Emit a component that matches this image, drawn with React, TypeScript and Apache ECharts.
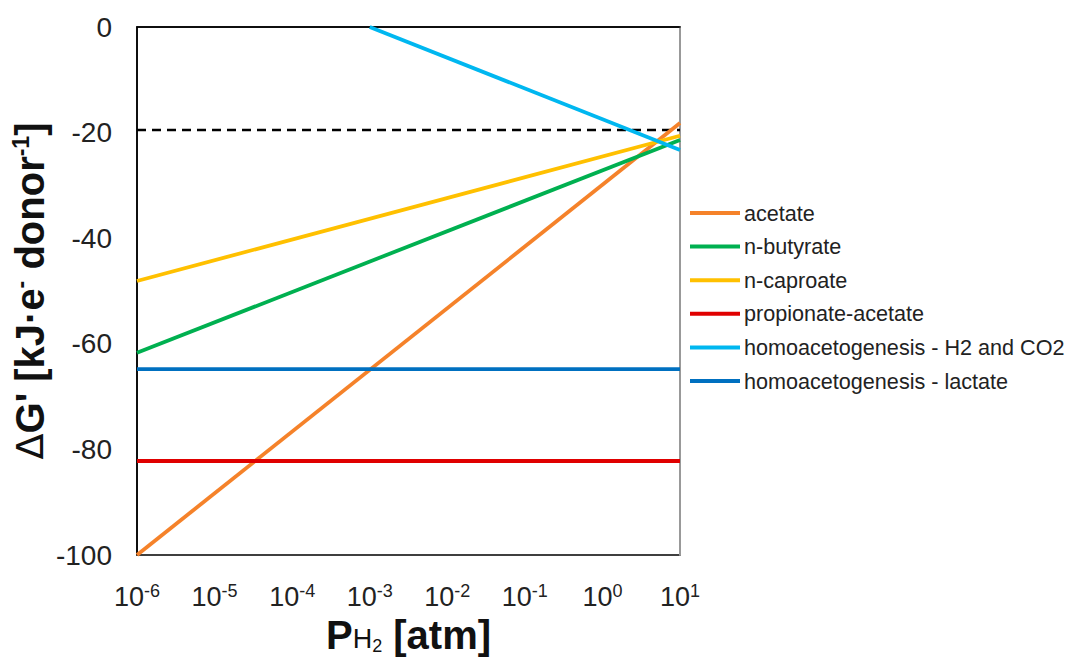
import React, { useEffect, useRef } from "react";
import * as echarts from "echarts";

const seriesNames = [
  "acetate",
  "n-butyrate",
  "n-caproate",
  "propionate-acetate",
  "homoacetogenesis - H2 and CO2",
  "homoacetogenesis - lactate",
];
const seriesColors = ["#F5822A", "#00B050", "#FFC000", "#E00000", "#00B7F0", "#0070C0"];

const acetate = [[1e-6, -100], [10, -18.2]];
const nButyrate = [[1e-6, -61.7], [10, -21.4]];
const nCaproate = [[1e-6, -48.1], [10, -20.6]];
const propionateAcetate = [[1e-6, -82.2], [10, -82.2]];
const homoH2CO2 = [[1e-3, 0], [10, -23.3]];
const homoLactate = [[1e-6, -64.8], [10, -64.8]];
const threshold = [[1e-6, -19.5], [10, -19.5]];

const seriesData = [acetate, nButyrate, nCaproate, propionateAcetate, homoH2CO2, homoLactate];

const FONT = "Liberation Sans, Arial, sans-serif";

export default function App() {
  const ref = useRef<HTMLDivElement>(null);
  useEffect(() => {
    if (!ref.current) return;
    const chart = echarts.init(ref.current, undefined, { renderer: "svg" });
    const series: any[] = seriesNames.map((name, i) => ({
      name,
      type: "line",
      data: seriesData[i],
      showSymbol: false,
      symbol: "none",
      lineStyle: { color: seriesColors[i], width: 3.8 },
      itemStyle: { color: seriesColors[i] },
      z: 3,
    }));
    series.push({
      name: "threshold",
      type: "line",
      data: threshold,
      showSymbol: false,
      symbol: "none",
      lineStyle: { color: "#000", width: 2.5, type: [9, 6] },
      itemStyle: { color: "#000" },
      z: 2,
    });
    chart.setOption({
      animation: false,
      backgroundColor: "#fff",
      grid: {
        left: 137,
        right: 390,
        top: 27,
        bottom: 104,
        outerBoundsMode: "none",
        containLabel: false,
        show: true,
        borderColor: "#000",
        borderWidth: 1.5,
      },
      legend: {
        data: seriesNames,
        orient: "vertical",
        left: 685,
        top: 196,
        icon: "rect",
        itemWidth: 50,
        itemHeight: 4,
        itemGap: 9.6,
        itemStyle: { borderWidth: 0 },
        textStyle: { fontFamily: FONT, fontSize: 21.6, color: "#222", lineHeight: 24, padding: [0, 0, 0, -1] },
      },
      xAxis: {
        type: "log",
        logBase: 10,
        min: 1e-6,
        max: 10,
        splitLine: { show: false },
        axisTick: { show: false },
        minorTick: { show: false },
        axisLine: { show: true, lineStyle: { color: "#000", width: 1.5 } },
        axisLabel: {
          margin: 27,
          formatter: (v: number) => {
            const e = Math.round(Math.log10(v));
            return "{a|10}{b|" + e + "}";
          },
          rich: {
            a: { fontFamily: FONT, fontSize: 27, color: "#222" },
            b: { fontFamily: FONT, fontSize: 18, color: "#222", verticalAlign: "top", padding: [0, 0, 12, 0] },
          },
        },
        name: "{p|P}{h|H}{s|2}{p| [atm]}",
        nameLocation: "middle",
        nameGap: 60,
        nameMoveOverlap: false,
        nameTextStyle: {
          rich: {
            p: { fontFamily: FONT, fontSize: 40, fontWeight: "bold", color: "#111" },
            h: { fontFamily: FONT, fontSize: 27, color: "#111", padding: [8, 0, 0, 0] },
            s: { fontFamily: FONT, fontSize: 18, color: "#111", padding: [22, 0, 0, 0] },
          },
        },
      },
      yAxis: [
        {
          type: "value",
          min: -100,
          max: 0,
          interval: 20,
          splitLine: { show: false },
          axisTick: { show: false },
          axisLine: { show: true, lineStyle: { color: "#000", width: 1.5 } },
          axisLabel: {
            margin: 25,
            fontFamily: FONT,
            fontSize: 28,
            color: "#222",
            formatter: (v: number) => String(v),
          },
          name: "{d|Δ}{m|G' [kJ·e}{s|-}{m| donor}{s|-1}{m|]}",
          nameLocation: "middle",
          nameRotate: 90,
          nameGap: 86,
          nameMoveOverlap: false,
          nameTextStyle: {
            rich: {
              d: { fontFamily: "DejaVu Sans, sans-serif", fontSize: 38, color: "#111" },
              m: { fontFamily: FONT, fontSize: 40, fontWeight: "bold", color: "#111" },
              s: { fontFamily: FONT, fontSize: 23, fontWeight: "bold", color: "#111", padding: [0, 0, 19, 0] },
            },
          },
        },
        {
          type: "value",
          min: -100,
          max: 0,
          interval: 20,
          position: "right",
          splitLine: { show: false },
          axisTick: { show: false },
          axisLabel: { show: false },
          axisLine: { show: true, lineStyle: { color: "#999", width: 2 } },
        },
      ],
      series,
    });
    return () => chart.dispose();
  }, []);
  return (
    <div
      ref={ref}
      style={{ position: "absolute", left: 0, top: 0, width: 1070, height: 659 }}
    />
  );
}
